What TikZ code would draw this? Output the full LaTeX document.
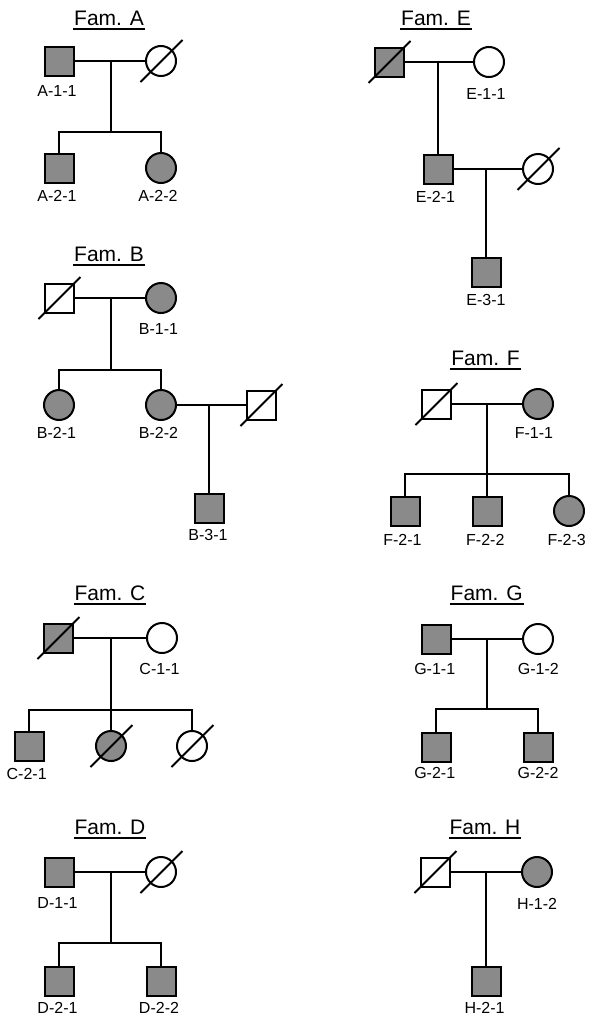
\documentclass[tikz,border=0pt]{standalone}
\usepackage{fontspec}
\setmainfont{Liberation Sans}
\definecolor{affected}{RGB}{138,138,138}
\begin{document}
\begin{tikzpicture}[x=1pt,y=-1pt,
  line width=2pt,
  male/.style={draw, rectangle, minimum size=29pt, inner sep=0pt},
  female/.style={draw, circle, minimum size=30pt, inner sep=0pt},
  aff/.style={fill=affected},
  lab/.style={font=\fontsize{16}{16}\selectfont, inner sep=0pt},
  ttl/.style={font=\fontsize{21}{21}\selectfont, inner sep=0pt},
]
\useasboundingbox[fill=white] (0,0) rectangle (590,1020);

% slash through a deceased individual
\newcommand\slashmark[1]{\draw[line width=1.8pt] ([shift={(-20.5,21)}]#1.center) -- ([shift={(21.5,-21)}]#1.center);}
% underlined family title
\newcommand\famtitle[3]{\node[ttl] (#1) at (#2) {#3};
  \draw ([yshift=-2.5pt]#1.south west) -- ([yshift=-2.5pt]#1.south east);}

% ---------------- Family A ----------------
\famtitle{ta}{109,18}{Fam. A}
\node[male,aff] (a11) at (59,61) {};
\node[female] (a12) at (161,61) {};
\slashmark{a12}
\node[male,aff] (a21) at (59,168) {};
\node[female,aff] (a22) at (161,168) {};
\coordinate (am) at (111,61);
\coordinate (as) at (111,132);
\draw (a11) -- (a12);
\draw (am) -- (as);
\draw (a21.north) |- (as) -| (a22.north);
\node[lab] (la11) at (57,91) {A-1-1};
\node[lab] (la21) at (57,196) {A-2-1};
\node[lab] (la22) at (158,196) {A-2-2};

% ---------------- Family E ----------------
\famtitle{te}{436,18}{Fam. E}
\node[male,aff] (e1) at (389,62) {};
\slashmark{e1}
\node[female] (e11) at (489,62) {};
\node[male,aff] (e21) at (438,169) {};
\node[female] (e22) at (538,169) {};
\slashmark{e22}
\node[male,aff] (e31) at (486,272) {};
\coordinate (em) at (438,62);
\coordinate (e2m) at (486,169);
\draw (e1) -- (e11);
\draw (em) -- (e21.north);
\draw (e21) -- (e22);
\draw (e2m) -- (e31.north);
\node[lab] (le11) at (486,94) {E-1-1};
\node[lab] (le21) at (435.5,197) {E-2-1};
\node[lab] (le31) at (486,300) {E-3-1};

% ---------------- Family B ----------------
\famtitle{tb}{109,254}{Fam. B}
\node[male] (b1) at (59,298) {};
\slashmark{b1}
\node[female,aff] (b11) at (161,298) {};
\node[female,aff] (b21) at (59,405) {};
\node[female,aff] (b22) at (161,405) {};
\node[male] (b2) at (261,405) {};
\slashmark{b2}
\node[male,aff] (b31) at (209,508) {};
\coordinate (bm) at (111,298);
\coordinate (bs) at (111,370);
\coordinate (b2m) at (209,405);
\draw (b1) -- (b11);
\draw (bm) -- (bs);
\draw (b21.north) |- (bs) -| (b22.north);
\draw (b22) -- (b2);
\draw (b2m) -- (b31.north);
\node[lab] (lb11) at (158.5,329) {B-1-1};
\node[lab] (lb21) at (56.5,432.5) {B-2-1};
\node[lab] (lb22) at (158.5,432.5) {B-2-2};
\node[lab] (lb31) at (208,535) {B-3-1};

% ---------------- Family F ----------------
\famtitle{tf}{485.5,358.3}{Fam. F}
\node[male] (f1) at (436,404) {};
\slashmark{f1}
\node[female,aff] (f11) at (538,404) {};
\node[male,aff] (f21) at (405,511) {};
\node[male,aff] (f22) at (487,511) {};
\node[female,aff] (f23) at (569,511) {};
\coordinate (fm) at (487,404);
\coordinate (fs) at (487,474);
\draw (f1) -- (f11);
\draw (fm) -- (fs);
\draw (f21.north) |- (fs) -| (f23.north);
\draw (fs) -- (f22.north);
\node[lab] (lf11) at (534,433) {F-1-1};
\node[lab] (lf21) at (402.5,539.5) {F-2-1};
\node[lab] (lf22) at (485.3,539.5) {F-2-2};
\node[lab] (lf23) at (566.7,539.5) {F-2-3};

% ---------------- Family C ----------------
\famtitle{tc}{110,593.3}{Fam. C}
\node[male,aff] (c1) at (58,638) {};
\slashmark{c1}
\node[female] (c11) at (162,638) {};
\node[male,aff] (c21) at (29,746) {};
\node[female,aff] (c22) at (111,746) {};
\slashmark{c22}
\node[female] (c23) at (192,746) {};
\slashmark{c23}
\coordinate (cm) at (111,638);
\coordinate (cs) at (111,710);
\draw (c1) -- (c11);
\draw (cm) -- (cs);
\draw (c21.north) |- (cs) -| (c23.north);
\draw (cs) -- (c22.north);
\node[lab] (lc11) at (159.5,669) {C-1-1};
\node[lab] (lc21) at (26.7,774) {C-2-1};

% ---------------- Family G ----------------
\famtitle{tg}{486.7,593.3}{Fam. G}
\node[male,aff] (g11) at (436,639) {};
\node[female] (g12) at (538,639) {};
\node[male,aff] (g21) at (436,747) {};
\node[male,aff] (g22) at (538,747) {};
\coordinate (gm) at (487,639);
\coordinate (gs) at (487,709);
\draw (g11) -- (g12);
\draw (gm) -- (gs);
\draw (g21.north) |- (gs) -| (g22.north);
\node[lab] (lg11) at (434.7,669) {G-1-1};
\node[lab] (lg12) at (538.3,669) {G-1-2};
\node[lab] (lg21) at (434.7,773) {G-2-1};
\node[lab] (lg22) at (538,773) {G-2-2};

% ---------------- Family D ----------------
\famtitle{td}{110,827.2}{Fam. D}
\node[male,aff] (d11) at (59,872) {};
\node[female] (d12) at (161,872) {};
\slashmark{d12}
\node[male,aff] (d21) at (59,981) {};
\node[male,aff] (d22) at (161,981) {};
\coordinate (dm) at (111,872);
\coordinate (ds) at (111,943);
\draw (d11) -- (d12);
\draw (dm) -- (ds);
\draw (d21.north) |- (ds) -| (d22.north);
\node[lab] (ld11) at (57.5,902.5) {D-1-1};
\node[lab] (ld21) at (57.5,1007.5) {D-2-1};
\node[lab] (ld22) at (159,1007.5) {D-2-2};

% ---------------- Family H ----------------
\famtitle{th}{485,827.2}{Fam. H}
\node[male] (h1) at (435,872) {};
\slashmark{h1}
\node[female,aff] (h12) at (537,872) {};
\node[male,aff] (h21) at (486,981) {};
\coordinate (hm) at (486,872);
\draw (h1) -- (h12);
\draw (hm) -- (h21.north);
\node[lab] (lh12) at (537,904) {H-1-2};
\node[lab] (lh21) at (484.5,1007.5) {H-2-1};
\end{tikzpicture}
\end{document}
